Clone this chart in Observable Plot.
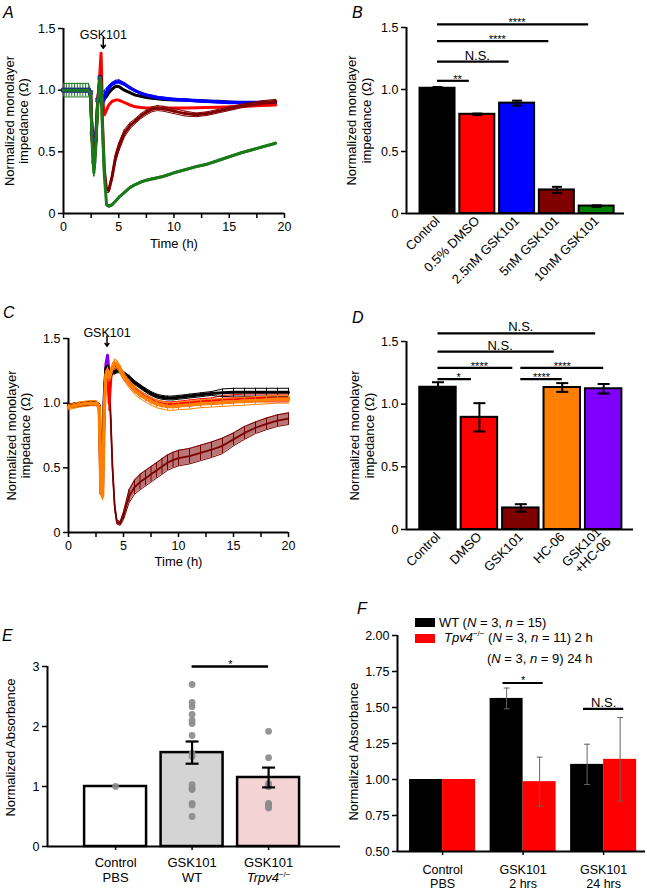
<!DOCTYPE html>
<html><head><meta charset="utf-8">
<script src="https://cdn.jsdelivr.net/npm/d3@7"></script>
<script src="https://cdn.jsdelivr.net/npm/@observablehq/plot@0.6"></script>
<style>
body{margin:0;background:#fff;}
#fig{position:relative;width:647px;height:891px;background:#fff;font-family:"Liberation Sans",Arial,Helvetica,sans-serif;overflow:hidden;}
.plab{position:absolute;font-style:italic;font-size:16px;line-height:16px;}
.legbox{position:absolute;width:20px;height:9px;}
.legtxt{position:absolute;font-size:13px;line-height:15px;white-space:nowrap;}
.legtxt sup{font-size:8px;vertical-align:6px;line-height:0;}
</style></head><body><div id="fig"></div>
<script>
// ================= DATA =================
// Panel A – impedance time course (GSK101 doses)
const timeA = [0,0.25,0.5,0.75,1,1.25,1.5,1.75,2,2.25,2.45,2.6,2.75,2.9,3.1,3.3,3.4,3.5,3.7,3.9,4.1,4.4,4.7,5,5.5,6,6.5,7,7.5,8,8.5,9,10,11,12,13,14,15,16,17,18,19.2];
const controlA = [1,1,1,1,1,1,1,1,1,1,0.97,0.6,0.36,0.55,0.9,1.1,1.02,0.96,0.93,0.95,0.98,1.01,1.03,1.03,1.0,0.98,0.96,0.95,0.94,0.935,0.93,0.925,0.92,0.92,0.915,0.91,0.91,0.905,0.9,0.9,0.9,0.9];
const dmsoA = [1,1,1,1,1,1,1,1,1,1,0.97,0.6,0.38,0.55,0.92,1.15,1.3,0.95,0.8,0.84,0.88,0.91,0.92,0.92,0.9,0.88,0.865,0.86,0.855,0.855,0.855,0.855,0.855,0.855,0.857,0.86,0.862,0.865,0.87,0.872,0.875,0.88];
const gsk25A = [1,1,1,1,1,1,1,1,1,1,0.98,0.65,0.42,0.6,0.92,1.1,1.0,0.9,0.95,0.99,1.02,1.05,1.065,1.07,1.05,1.02,0.995,0.975,0.96,0.95,0.94,0.935,0.925,0.92,0.915,0.91,0.905,0.9,0.9,0.9,0.9,0.9];
const errGsk25A = [0.01,0.01,0.01,0.01,0.01,0.01,0.01,0.01,0.01,0.01,0.02,0.03,0.03,0.03,0.03,0.02,0.05,0.08,0.05,0.03,0.02,0.015,0.015,0.015,0.012,0.012,0.01,0.01,0.01,0.01,0.01,0.01,0.01,0.01,0.01,0.01,0.01,0.01,0.01,0.01,0.01,0.01];
const gsk5A = [1,1,1,1,1,1,1,1,1,1,0.97,0.6,0.37,0.55,0.9,1.1,1.1,0.8,0.35,0.19,0.19,0.3,0.45,0.54,0.65,0.71,0.75,0.79,0.82,0.845,0.855,0.85,0.83,0.81,0.8,0.81,0.83,0.85,0.87,0.885,0.9,0.91];
const errGsk5A = [0.01,0.01,0.01,0.01,0.01,0.01,0.01,0.01,0.01,0.01,0.02,0.02,0.02,0.02,0.02,0.02,0.02,0.03,0.03,0.02,0.02,0.03,0.035,0.035,0.03,0.025,0.02,0.02,0.02,0.02,0.02,0.02,0.02,0.02,0.015,0.015,0.015,0.015,0.015,0.015,0.015,0.015];
const gsk10A = [1,1,1,1,1,1,1,1,1,1,0.97,0.55,0.33,0.5,0.88,1.1,1.05,0.75,0.3,0.07,0.06,0.07,0.1,0.13,0.17,0.21,0.235,0.255,0.27,0.28,0.29,0.3,0.33,0.355,0.38,0.4,0.43,0.46,0.49,0.515,0.54,0.57];
const errGsk10A = [0.055,0.055,0.055,0.055,0.055,0.055,0.055,0.055,0.055,0.055,0.03,0.03,0.03,0.03,0.03,0.02,0.02,0.02,0.02,0.01,0.01,0.01,0.01,0.01,0.01,0.01,0.008,0.008,0.008,0.008,0.008,0.008,0.008,0.008,0.008,0.008,0.008,0.008,0.008,0.008,0.008,0.008];
const gskAddA = {t: 3.6, from: 1.43, to: 1.34, label: "GSK101"};

// Panel B – bar summary
const groupsB = ["Control","0.5% DMSO","2.5nM GSK101","5nM GSK101","10nM GSK101"];
const valuesB = [1.01,0.80,0.89,0.19,0.06];
const errorsB = [0.01,0.006,0.02,0.025,0.006];
const colorsB = ["#000000","#ff0000","#0000ff","#800000","#008000"];
const sigB = [{from:0,to:1,y:1.07,label:"**"},{from:0,to:2,y:1.225,label:"N.S."},{from:0,to:3,y:1.39,label:"****"},{from:0,to:4,y:1.525,label:"****"}];

// Panel C – impedance time course (HC-06)
const timeC = [0,0.5,1,1.5,2,2.5,2.8,2.95,3.1,3.25,3.4,3.55,3.7,3.85,4.0,4.2,4.4,4.7,5,5.5,6,6.5,7,7.5,8,8.5,9,9.5,10,11,12,13,14,15,16,17,18,19,20];
const controlC = [0.98,0.985,0.99,0.995,1.0,1.0,0.98,0.45,0.5,1.05,1.27,1.28,1.25,1.24,1.24,1.24,1.25,1.25,1.23,1.2,1.16,1.13,1.1,1.075,1.055,1.045,1.04,1.04,1.045,1.055,1.065,1.075,1.08,1.085,1.085,1.085,1.085,1.085,1.085];
const errControlC = [0.015,0.015,0.015,0.015,0.015,0.015,0.015,0.015,0.015,0.015,0.015,0.015,0.015,0.015,0.015,0.015,0.015,0.015,0.015,0.015,0.015,0.015,0.015,0.015,0.015,0.015,0.015,0.015,0.015,0.015,0.015,0.015,0.03,0.03,0.03,0.03,0.03,0.03,0.03];
const dmsoC = [0.98,0.985,0.99,0.995,1.0,1.0,0.98,0.4,0.45,1.0,1.25,1.27,1.0,1.2,1.27,1.29,1.29,1.26,1.21,1.16,1.11,1.075,1.05,1.025,1.005,0.995,0.99,0.99,0.995,1.005,1.015,1.02,1.03,1.035,1.04,1.04,1.04,1.04,1.04];
const errDmsoC = [0.015,0.015,0.015,0.015,0.015,0.015,0.015,0.015,0.015,0.015,0.04,0.04,0.06,0.04,0.02,0.02,0.02,0.02,0.02,0.02,0.02,0.02,0.02,0.02,0.02,0.02,0.02,0.02,0.02,0.02,0.02,0.02,0.03,0.03,0.03,0.03,0.03,0.03,0.03];
const gskC = [0.98,0.985,0.99,0.995,1.0,1.0,0.98,0.5,0.55,1.1,1.28,1.3,1.2,0.85,0.5,0.2,0.08,0.07,0.13,0.28,0.35,0.39,0.42,0.45,0.48,0.51,0.54,0.56,0.575,0.59,0.615,0.64,0.67,0.72,0.77,0.81,0.84,0.865,0.88];
const errGskC = [0.01,0.01,0.01,0.01,0.01,0.01,0.01,0.05,0.05,0.05,0.02,0.02,0.03,0.03,0.03,0.02,0.015,0.015,0.03,0.05,0.055,0.06,0.06,0.06,0.06,0.06,0.06,0.06,0.06,0.06,0.06,0.06,0.06,0.05,0.05,0.045,0.045,0.045,0.045];
const hc06C = [0.97,0.98,0.99,0.995,1.0,1.0,0.97,0.33,0.28,0.95,1.22,1.25,1.2,1.24,1.28,1.31,1.3,1.26,1.21,1.15,1.1,1.065,1.04,1.015,0.995,0.985,0.975,0.975,0.98,0.985,0.995,1.0,1.005,1.01,1.015,1.02,1.025,1.03,1.03];
const errHc06C = [0.02,0.02,0.02,0.02,0.02,0.02,0.02,0.03,0.03,0.03,0.03,0.03,0.03,0.03,0.03,0.03,0.03,0.03,0.03,0.03,0.03,0.03,0.03,0.03,0.03,0.03,0.03,0.03,0.03,0.03,0.03,0.03,0.03,0.03,0.03,0.03,0.03,0.03,0.03];
const gskHcC = [0.98,0.985,0.99,0.995,1.0,1.0,0.96,0.3,0.35,1.0,1.3,1.37,1.22,1.22,1.27,1.3,1.29,1.25,1.2,1.15,1.1,1.065,1.04,1.015,0.995,0.985,0.975,0.975,0.98,0.985,0.995,1.0,1.005,1.01,1.015,1.02,1.025,1.03,1.03];
const gskAddC = {t: 3.5, from: 1.52, to: 1.44, label: "GSK101"};

// Panel D – bar summary
const groupsD = ["Control","DMSO","GSK101","HC-06","GSK101\n+HC-06"];
const valuesD = [1.135,0.895,0.172,1.133,1.123];
const errorsD = [0.04,0.113,0.03,0.035,0.038];
const colorsD = ["#000000","#ff0000","#800000","#ff8000","#8000ff"];
const sigD = [{from:0,to:4,y:1.565,label:"N.S."},{from:0,to:3,y:1.42,label:"N.S."},{from:0,to:2,y:1.29,label:"****"},{from:0,to:1,y:1.2,label:"*"},{from:2,to:4,y:1.29,label:"****"},{from:2,to:3,y:1.2,label:"****"}];

// Panel E – absorbance
const groupsE = ["Control\nPBS","GSK101\nWT","GSK101\nTrpv4-/-"];
const valuesE = [1.0,1.565,1.15];
const errorsE = [0,0.185,0.165];
const fillsE = ["#ffffff","#d4d4d4","#f3d3d3"];
const pointsCtrlE = [1.0];
const pointsWtE = [2.7,2.4,2.33,2.2,2.1,2.05,1.85,1.55,1.5,1.03,0.97,0.95,0.72,0.69,0.5];
const pointsKoE = [1.92,1.48,1.05,1.02,1.0,0.72,0.7,0.68,0.66,0.64,1.0];
const sigE = [{from:1,to:2,y:3.0,label:"*"}];

// Panel F – absorbance, two genotypes
const groupsF = ["Control\nPBS","GSK101\n2 hrs","GSK101\n24 hrs"];
const wtF = [1.0,1.563,1.105];
const wtErrF = [0,0.072,0.14];
const koF = [1.0,0.985,1.14];
const koErrF = [0,0.17,0.29];
const sigF = [{group:1,y:1.67,label:"*"},{group:2,y:1.49,label:"N.S."}];

// Tick values
const ticksTime = [0,5,10,15,20];
const minorTime = [2.5,7.5,12.5,17.5];
const ticksImp = [0,0.5,1,1.5];
const ticksAbsE = [0,1,2,3];
const ticksAbsF = [0.5,0.75,1.0,1.25,1.5,1.75,2.0];

// ================= HELPERS =================
const FONT = '"Liberation Sans", Arial, Helvetica, sans-serif';
const baseStyle = {fontFamily: FONT, fontSize: "12px", color: "#000", background: "transparent", overflow: "visible"};
const fig = document.getElementById("fig");
function place(el, left, top){ el.style.position="absolute"; el.style.left=left+"px"; el.style.top=top+"px"; fig.appendChild(el); return el; }
const hcap = {draw(ctx, size){ const w = Math.sqrt(size/Math.PI); ctx.moveTo(-w,0); ctx.lineTo(w,0); }};
const fmt1 = d => d === 0 ? "0" : d.toFixed(1);
const impLabel = "Normalized monolayer\nimpedance (\u03A9)";

function tsMarks(time, vals, errs, color, w){
  const rows = time.map((t,k)=>({t, v: vals[k], e: errs ? errs[k] : 0}));
  const m = [];
  if (errs){
    m.push(Plot.ruleX(rows, {x:"t", y1:d=>d.v-d.e, y2:d=>d.v+d.e, stroke:color, strokeWidth:1}));
    m.push(Plot.line(rows, {x:"t", y:d=>d.v+d.e, stroke:color, strokeWidth:1}));
    m.push(Plot.line(rows, {x:"t", y:d=>d.v-d.e, stroke:color, strokeWidth:1}));
  }
  m.push(Plot.line(rows, {x:"t", y:"v", stroke:color, strokeWidth:w || 3}));
  return m;
}
function timeAxes(){
  return [
    Plot.axisX({ticks: ticksTime, tickSize:5, tickPadding:4, strokeWidth:1.5, fontSize:12.5, label:null}),
    Plot.axisX({ticks: minorTime, tickSize:5, strokeWidth:1.5, tickFormat:()=>"", label:null}),
    Plot.axisY({ticks: ticksImp, tickSize:5, tickPadding:3, strokeWidth:1.5, tickFormat: fmt1, fontSize:12.5, label:null}),
    Plot.ruleX([0], {strokeWidth:2}),
    Plot.ruleY([0], {strokeWidth:2})
  ];
}
function sigMarks(sig, controlInset){
  return [
    Plot.ruleY(sig, {y:"y", x1:"from", x2:"to", strokeWidth:2.2, insetRight: controlInset}),
    Plot.text(sig, {filter:d=>!d.label.includes("*"), x:d=>(d.from+d.to)/2, y:"y", text:"label", lineAnchor:"bottom", dy:-2, fontSize:13}),
    Plot.text(sig, {filter:d=>d.label.includes("*"), x:d=>(d.from+d.to)/2, y:"y", text:"label", lineAnchor:"bottom", dy:2, fontSize:11})
  ];
}
function barPanel(groups, values, errors, colors, sig, o){
  const rows = groups.map((g,i)=>({i, v: values[i], e: errors[i], c: colors[i]}));
  return Plot.plot({
    width:o.width, height:o.height, marginLeft:o.ml, marginRight:o.mr, marginTop:o.mt, marginBottom:o.mb,
    style: baseStyle,
    x:{domain:o.xdomain}, y:{domain:[0,1.5]},
    marks:[
      Plot.axisX({ticks: groups.map((g,i)=>i), tickFormat: i=>groups[i], tickSize:0, tickPadding:5, tickRotate:-45, fontSize:13, lineHeight:1.05, label:null}),
      Plot.axisY({ticks: ticksImp, tickSize:5, tickPadding:3, strokeWidth:1.5, tickFormat: fmt1, fontSize:12.5, label:null}),
      Plot.rectY(rows, {x1:d=>d.i-0.44, x2:d=>d.i+0.44, y:"v", fill:d=>d.c, stroke:"#000", strokeWidth:2}),
      Plot.ruleX(rows, {x:"i", y1:d=>d.v-d.e, y2:d=>d.v+d.e, stroke:"#000", strokeWidth:2}),
      Plot.dot(rows, {x:"i", y:d=>d.v+d.e, r:o.cap, symbol:hcap, stroke:"#000", strokeWidth:2}),
      Plot.dot(rows, {x:"i", y:d=>d.v-d.e, r:o.cap, symbol:hcap, stroke:"#000", strokeWidth:2}),
      Plot.ruleX([o.xdomain[0]], {strokeWidth:2}),
      Plot.ruleY([0], {strokeWidth:2}),
      ...sigMarks(sig.filter(d=>d.from===0), 8),
      ...sigMarks(sig.filter(d=>d.from!==0), 0),
      Plot.text([impLabel], {frameAnchor:"left", rotate:-90, dx:o.ylabDx, textAnchor:"middle", fontSize:13, lineHeight:1.15})
    ]
  });
}

// ================= PANEL A =================
const plotA = Plot.plot({
  width:320, height:300, marginLeft:63, marginRight:36, marginTop:28, marginBottom:87,
  style: baseStyle, x:{domain:[0,20]}, y:{domain:[0,1.5]},
  marks:[
    ...timeAxes(),
    ...tsMarks(timeA, gsk10A, errGsk10A, "#1a7a1a", 0.1).slice(0,3),
    ...tsMarks(timeA, controlA, null, "#000000"),
    ...tsMarks(timeA, gsk25A, errGsk25A, "#0000ff"),
    ...tsMarks(timeA, dmsoA, null, "#ff0000"),
    ...tsMarks(timeA, gsk5A, errGsk5A, "#800000"),
    Plot.dot(timeA.map((t,k)=>({t, v: gsk25A[k]})).filter(d=>d.t<=3.3), {x:"t", y:"v", symbol:"square", r:2.3, fill:"#4040d0", stroke:"#000080", strokeWidth:0.6}),
    ...tsMarks(timeA, gsk10A, null, "#1a7a1a"),
    Plot.text([gskAddA], {x:"t", text:"label", frameAnchor:"top", dy:2, fontSize:12.5}),
    Plot.arrow([gskAddA], {x1:"t", x2:"t", y1:"from", y2:"to", strokeWidth:1.5, headLength:7, headAngle:70}),
    Plot.text(["Time (h)"], {frameAnchor:"bottom", dy:34, fontSize:13}),
    Plot.text([impLabel], {frameAnchor:"left", rotate:-90, dx:-47, textAnchor:"middle", fontSize:13, lineHeight:1.1})
  ]
});
place(plotA, 0, 0);

// ================= PANEL B =================
const plotB = barPanel(groupsB, valuesB, errorsB, colorsB, sigB,
  {width:327, height:300, ml:86, mr:23, mt:27, mb:87, xdomain:[-0.78,4.7], cap:5, ylabDx:-48});
place(plotB, 320, 0);

// ================= PANEL C =================
const plotC = Plot.plot({
  width:320, height:290, marginLeft:68, marginRight:32, marginTop:38, marginBottom:58,
  style: baseStyle, x:{domain:[0,20]}, y:{domain:[0,1.5]},
  marks:[
    ...timeAxes(),
    Plot.areaY(timeC.map((t,k)=>({t, lo: gskC[k]-errGskC[k], hi: gskC[k]+errGskC[k]})), {x:"t", y1:"lo", y2:"hi", fill:"#8b1a1a", fillOpacity:0.6}),
    ...tsMarks(timeC, gskC, errGskC, "#7a0000", 1.8),
    ...tsMarks(timeC, gskHcC, null, "#7f00ff"),
    ...tsMarks(timeC, dmsoC, errDmsoC, "#ff0000"),
    ...tsMarks(timeC, controlC, errControlC, "#000000"),
    ...tsMarks(timeC, hc06C, errHc06C, "#ff8000", 3.5),
    Plot.text([gskAddC], {x:"t", text:"label", frameAnchor:"top", dy:-10, fontSize:12.5}),
    Plot.arrow([gskAddC], {x1:"t", x2:"t", y1:"from", y2:"to", strokeWidth:1.5, headLength:7, headAngle:70}),
    Plot.text(["Time (h)"], {frameAnchor:"bottom", dy:33, fontSize:13}),
    Plot.text([impLabel], {frameAnchor:"left", rotate:-90, dx:-50, textAnchor:"middle", fontSize:13, lineHeight:1.1})
  ]
});
place(plotC, 0, 300);

// ================= PANEL D =================
const plotD = barPanel(groupsD, valuesD, errorsD, colorsD, sigD,
  {width:327, height:290, ml:86, mr:14, mt:41, mb:61, xdomain:[-0.76,4.72], cap:6, ylabDx:-45});
place(plotD, 320, 300);

// ================= PANEL E =================
const rowsE = groupsE.map((g,i)=>({i, v: valuesE[i], e: errorsE[i], f: fillsE[i]}));
const ptsE = [
  ...pointsCtrlE.map(v=>({i:0, v})),
  ...pointsWtE.map(v=>({i:1, v})),
  ...pointsKoE.map(v=>({i:2, v}))
];
const plotE = Plot.plot({
  width:345, height:301, marginLeft:47, marginRight:5, marginTop:76, marginBottom:45,
  style: baseStyle, x:{domain:[-0.89,2.94]}, y:{domain:[0,3]},
  marks:[
    Plot.axisX({ticks:[0,1,2], tickFormat:i=>groupsE[i], tickSize:4, tickPadding:5, strokeWidth:1.5, fontSize:13, lineHeight:1.2, label:null}),
    Plot.axisY({ticks: ticksAbsE, tickSize:5, tickPadding:3, strokeWidth:1.5, tickFormat:d3.format("d"), fontSize:12.5, label:null}),
    Plot.rectY(rowsE, {x1:d=>d.i-0.405, x2:d=>d.i+0.405, y:"v", fill:d=>d.f, stroke:"#000", strokeWidth:2.5}),
    Plot.dot(ptsE, {x:"i", y:"v", r:3.4, fill:"#8c8c8c", fillOpacity:0.92}),
    Plot.ruleX(rowsE.filter(d=>d.e>0), {x:"i", y1:d=>d.v-d.e, y2:d=>d.v+d.e, stroke:"#000", strokeWidth:2.2}),
    Plot.dot(rowsE.filter(d=>d.e>0), {x:"i", y:d=>d.v+d.e, r:6.5, symbol:hcap, stroke:"#000", strokeWidth:2.2}),
    Plot.dot(rowsE.filter(d=>d.e>0), {x:"i", y:d=>d.v-d.e, r:6.5, symbol:hcap, stroke:"#000", strokeWidth:2.2}),
    Plot.ruleX([-0.89], {strokeWidth:2}),
    Plot.ruleY([0], {strokeWidth:2}),
    Plot.ruleY(sigE, {y:"y", x1:"from", x2:"to", strokeWidth:2.5}),
    Plot.text(sigE, {x:d=>(d.from+d.to)/2, y:"y", text:"label", lineAnchor:"bottom", dy:1, fontSize:11}),
    Plot.text(["Normalized Absorbance"], {frameAnchor:"left", rotate:-90, dx:-37, dy:-9, textAnchor:"middle", fontSize:13})
  ]
});
place(plotE, 0, 590);
plotE.querySelectorAll("text, tspan").forEach(el=>{
  if (el.childElementCount===0 && el.textContent==="Trpv4-/-"){
    el.textContent="";
    const ns="http://www.w3.org/2000/svg";
    const a=document.createElementNS(ns,"tspan"); a.setAttribute("font-style","italic"); a.textContent="Trpv4";
    const b=document.createElementNS(ns,"tspan"); b.setAttribute("font-size","8"); b.setAttribute("dy","-5"); b.textContent="\u2212/\u2212";
    el.appendChild(a); el.appendChild(b);
  }
});

// ================= PANEL F =================
const rowsF = [
  ...wtF.map((v,i)=>({i, v, e: wtErrF[i], side:-1, c:"#000000"})),
  ...koF.map((v,i)=>({i, v, e: koErrF[i], side:1, c:"#ff0000"}))
];
const yMinF = 0.5;
const plotF = Plot.plot({
  width:327, height:301, marginLeft:77, marginRight:2, marginTop:45, marginBottom:40,
  style: baseStyle, x:{domain:[-0.56,2.52]},
  y:{domain:[0.5,2.0]},
  marks:[
    Plot.axisX({ticks:[0,1,2], tickFormat:i=>groupsF[i], tickSize:4, tickPadding:8, strokeWidth:1.5, fontSize:12.5, lineHeight:1.15, label:null}),
    Plot.axisY({ticks: ticksAbsF, tickSize:5, tickPadding:3, strokeWidth:1.5, tickFormat:d3.format(".2f"), fontSize:12.5, label:null}),
    Plot.rectY(rowsF, {x1:d=>d.side<0 ? d.i-0.41 : d.i, x2:d=>d.side<0 ? d.i : d.i+0.41, y1:yMinF, y2:"v", fill:d=>d.c}),
    Plot.ruleX(rowsF.filter(d=>d.e>0), {x:d=>d.i+d.side*0.205, y1:d=>d.v-d.e, y2:d=>d.v+d.e, stroke:"#666", strokeWidth:1}),
    Plot.dot(rowsF.filter(d=>d.e>0), {x:d=>d.i+d.side*0.205, y:d=>d.v+d.e, r:3, symbol:hcap, stroke:"#666", strokeWidth:1}),
    Plot.dot(rowsF.filter(d=>d.e>0), {x:d=>d.i+d.side*0.205, y:d=>d.v-d.e, r:3, symbol:hcap, stroke:"#666", strokeWidth:1}),
    Plot.ruleX([-0.56], {strokeWidth:2}),
    Plot.ruleY([yMinF], {strokeWidth:2}),
    Plot.ruleY(sigF, {y:"y", x1:d=>d.group-0.25, x2:d=>d.group+0.25, strokeWidth:2.2}),
    Plot.text(sigF, {filter:d=>d.label!=="*", x:"group", y:"y", text:"label", lineAnchor:"bottom", dy:-2, fontSize:13}),
    Plot.text(sigF, {filter:d=>d.label==="*", x:"group", y:"y", text:"label", lineAnchor:"bottom", dy:1, fontSize:11}),
    Plot.text(["Normalized Absorbance"], {frameAnchor:"left", rotate:-90, dx:-44, dy:8, textAnchor:"middle", fontSize:13})
  ]
});
place(plotF, 320, 590);

// Legend F
const legendF = [
  {color:"#000000", html:'WT (<i>N</i> = 3, <i>n</i> = 15)', box:[415,618], text:[439,615]},
  {color:"#ff0000", html:'<i>Tpv4</i><sup>\u2212/\u2212</sup> (<i>N</i> = 3, <i>n</i> = 11) 2 h', box:[415,634], text:[444,630]},
  {color:null, html:'(<i>N</i> = 3, <i>n</i> = 9) 24 h', box:null, text:[487,651]}
];
legendF.forEach(l=>{
  if (l.box){ const b=document.createElement("div"); b.className="legbox"; b.style.background=l.color; b.style.left=l.box[0]+"px"; b.style.top=l.box[1]+"px"; fig.appendChild(b); }
  const t=document.createElement("div"); t.className="legtxt"; t.innerHTML=l.html; t.style.left=l.text[0]+"px"; t.style.top=l.text[1]+"px"; fig.appendChild(t);
});

// Panel letters
[["A",3,5],["B",352,5],["C",3,305],["D",352,310],["E",2,628],["F",357,601]].forEach(([s,x,y])=>{
  const d=document.createElement("div"); d.className="plab"; d.textContent=s; d.style.left=x+"px"; d.style.top=y+"px"; fig.appendChild(d);
});
</script></body></html>
